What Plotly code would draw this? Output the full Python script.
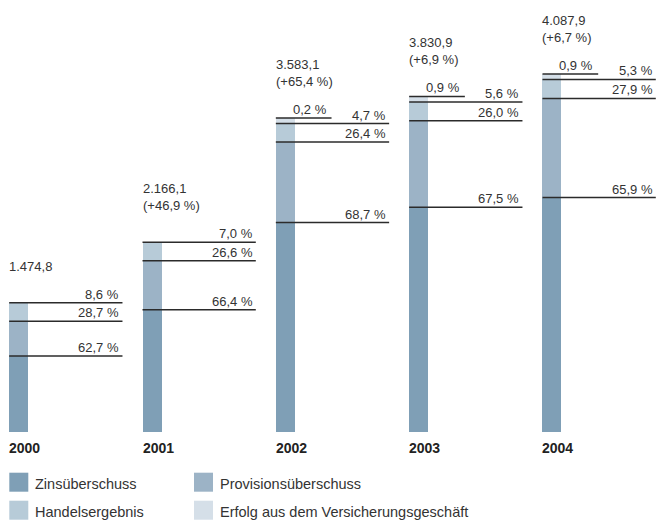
import plotly.graph_objects as go

# ---- data ----
years = ["2000", "2001", "2002", "2003", "2004"]
totals = [1474.8, 2166.1, 3583.1, 3830.9, 4087.9]
total_labels = ["1.474,8", "2.166,1", "3.583,1", "3.830,9", "4.087,9"]
change_labels = [None, "(+46,9 %)", "(+65,4 %)", "(+6,9 %)", "(+6,7 %)"]
zins_pct = [62.7, 66.4, 68.7, 67.5, 65.9]
prov_pct = [28.7, 26.6, 26.4, 26.0, 27.9]
handel_pct = [8.6, 7.0, 4.7, 5.6, 5.3]
vers_pct = [0.0, 0.0, 0.2, 0.9, 0.9]
series_names = ["Zinsüberschuss", "Provisionsüberschuss", "Handelsergebnis",
                "Erfolg aus dem Versicherungsgeschäft"]

def fmt(p):
    return f"{p:.1f}".replace(".", ",") + " %"

# ---- style ----
colors = ["#7f9fb6", "#9cb3c6", "#b7cbd8", "#d5dfe8"]
W, H = 658, 520
PLOT_H = 432
PX_PER_UNIT = 0.0876
px_per_x = 133.33
x_lo = -18.67 / px_per_x
x_hi = x_lo + W / px_per_x
y_hi = PLOT_H / PX_PER_UNIT
bar_w = 19 / px_per_x
line_len = 113.3 / px_per_x
short_len = 55.7 / px_per_x
line_col = "#2b2b2b"
txt_col = "#333333"
FONT = "Liberation Sans, Arial, sans-serif"
# minimum displayed segment heights (px) so the small shares keep room for their labels,
# as in the original graphic; the remaining height is shared proportionally.
MIN_PX = [0, 0, 18.5, 5.5]

xs = list(range(len(years)))
pcts = [zins_pct, prov_pct, handel_pct, vers_pct]

# display heights per series (data units), total bar height preserved
disp = [[0.0] * len(xs) for _ in pcts]
for i in xs:
    t = totals[i]
    true_vals = [t * pc[i] / 100 for pc in pcts]
    small = {}
    for k in (2, 3):
        if true_vals[k] > 0:
            small[k] = max(true_vals[k], MIN_PX[k] / PX_PER_UNIT)
    rest_true = sum(v for k, v in enumerate(true_vals) if k not in small)
    scale = (t - sum(small.values())) / rest_true
    for k, v in enumerate(true_vals):
        disp[k][i] = small[k] if k in small else v * scale

fig = go.Figure()
for k, (name, pc, col) in enumerate(zip(series_names, pcts, colors)):
    fig.add_trace(go.Bar(
        x=xs, y=disp[k], name=name, marker=dict(color=col, line=dict(width=0)),
        width=bar_w, showlegend=False,
        customdata=[fmt(p) for p in pc], hovertemplate=name + ": %{customdata}<extra></extra>"))

shapes = []
annotations = []
for i in xs:
    t = totals[i]
    left = i - bar_w / 2
    cum = 0.0
    for k in range(3):
        cum += disp[k][i]
        shapes.append(dict(type="line", x0=left, x1=left + line_len, y0=cum, y1=cum,
                           line=dict(color=line_col, width=1.5)))
        annotations.append(dict(x=left + line_len, y=cum, text=fmt(pcts[k][i]), showarrow=False,
                                xanchor="right", yanchor="bottom", xshift=-1, yshift=-1,
                                font=dict(size=13, color=txt_col, family=FONT)))
    if vers_pct[i] > 0:
        shapes.append(dict(type="line", x0=left, x1=left + short_len, y0=t, y1=t,
                           line=dict(color=line_col, width=1.5)))
        annotations.append(dict(x=left + short_len, y=t, text=fmt(vers_pct[i]), showarrow=False,
                                xanchor="right", yanchor="bottom", xshift=-3, yshift=-1,
                                font=dict(size=13, color=txt_col, family=FONT)))
    lbl = total_labels[i] + ("<br>" + change_labels[i] if change_labels[i] else "")
    annotations.append(dict(x=left, y=t, text=lbl, showarrow=False, align="left",
                            xanchor="left", yanchor="bottom", xshift=-2, yshift=27,
                            font=dict(size=13, color=txt_col, family=FONT)))
    annotations.append(dict(x=left, y=0, text="<b>" + years[i] + "</b>", showarrow=False,
                            xanchor="left", yanchor="top", xshift=-2, yshift=-6,
                            font=dict(size=14, color="#222222", family=FONT)))

# custom legend
def py2paper(py):
    return (PLOT_H - py) / PLOT_H

leg_pos = [(9.3, 472.7), (194, 472.7), (9.3, 500.7), (194, 500.7)]
for (lx, ly), name, col in zip(leg_pos, series_names, colors):
    shapes.append(dict(type="rect", xref="paper", yref="paper",
                       x0=lx / W, x1=(lx + 19) / W, y0=py2paper(ly + 19), y1=py2paper(ly),
                       fillcolor=col, line=dict(width=0)))
    annotations.append(dict(xref="paper", yref="paper", x=(lx + 24) / W, y=py2paper(ly + 11),
                            text=name, showarrow=False, xanchor="left", yanchor="middle",
                            font=dict(size=14.5, color=txt_col, family=FONT)))

fig.update_layout(
    width=W, height=H, barmode="stack", bargap=0,
    margin=dict(l=0, r=0, t=0, b=H - PLOT_H, pad=0),
    plot_bgcolor="white", paper_bgcolor="white",
    xaxis=dict(range=[x_lo, x_hi], visible=False, fixedrange=True),
    yaxis=dict(range=[0, y_hi], visible=False, fixedrange=True),
    shapes=shapes, annotations=annotations,
    font=dict(family=FONT, color=txt_col),
)
fig.write_html("out.html", config={"displayModeBar": False},
               post_script="document.body.style.margin='0';document.body.style.overflow='hidden';")
